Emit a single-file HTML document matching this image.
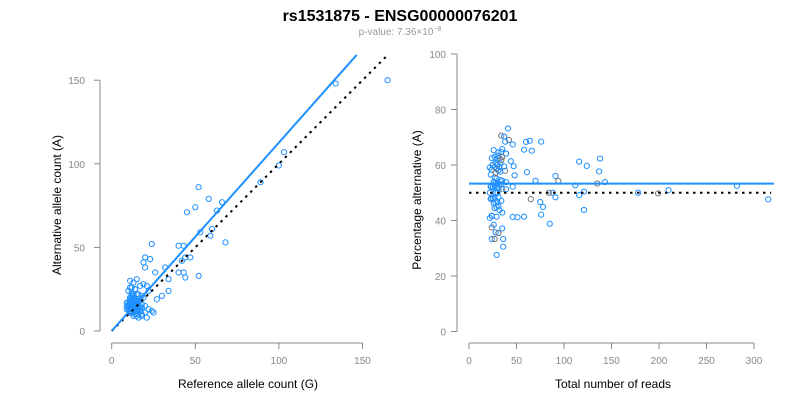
<!DOCTYPE html>
<html><head><meta charset="utf-8">
<style>
body{margin:0;background:#fff;}
svg{display:block;font-family:"Liberation Sans",sans-serif;}
</style></head>
<body>
<svg id="chart" width="800" height="400" viewBox="0 0 800 400">
<text x="400" y="21" text-anchor="middle" font-size="16" font-weight="bold" fill="#000">rs1531875 - ENSG00000076201</text>
<text x="400" y="35" text-anchor="middle" font-size="10" fill="#999">p-value: 7.36×10<tspan dy="-4" font-size="7">−8</tspan></text>
<g id="left"></g>
<g id="right"></g>
<text x="248" y="388" text-anchor="middle" font-size="12" fill="#000">Reference allele count (G)</text>
<text transform="translate(61,205) rotate(-90)" text-anchor="middle" font-size="12" fill="#000">Alternative allele count (A)</text>
<text x="613" y="388" text-anchor="middle" font-size="12" fill="#000">Total number of reads</text>
<text transform="translate(421,200) rotate(-90)" text-anchor="middle" font-size="12" fill="#000">Percentage alternative (A)</text>
</svg>
<script>
const refCounts = [165,134,103,100,89,52,58,66,50,45,63,53,60,59,68,24,40,43,20,23,19,20,44,47,42,26,32,40,43,44,52,34,34,30,27,25,20,
 11,13,15,17,12,19,14,22,16,18,21,11,13,15,12,14,16,10,12,13,11,14,15,17,18,12,13,10,11,12,14,16,9,11,13,15,10,12,14,11,13,16,18,20,22,12,10,11,13,15,17,19,12,14,21,24,16,18,11,9,10,12,13,
 12,13,14,15,16,12,13,14,11,12,13,14,15,10,11,12,13,14,15,16,17,12,13,14,18,20,9,10,11,12,13,14,15,16,12,11,13,14,15,12];
const altCounts = [150,148,107,99,89,86,79,77,74,71,72,59,61,57,53,52,51,51,44,43,41,38,44,44,42,35,38,35,35,32,33,31,24,21,19,11,11,
 30,29,31,27,26,28,25,24,22,21,27,20,19,18,17,16,15,14,13,12,11,10,9,12,14,18,16,15,12,11,10,13,17,19,20,22,24,23,14,12,9,8,10,11,13,15,17,26,14,16,18,20,22,25,8,12,10,9,12,15,13,11,15,
 14,15,16,13,14,17,18,12,16,13,12,14,15,15,12,11,18,19,17,18,14,20,22,10,16,15,13,14,17,16,15,13,12,19,11,18,21,15,16,14];
const xTicksL = [0,50,100,150], yTicksL = [0,50,100,150];
const xTicksR = [0,50,100,150,200,250,300], yTicksR = [0,20,40,60,80,100];
const fitSlope = 1.127, fitPct = 53.3, nullPct = 50;

const NS="http://www.w3.org/2000/svg";
function mk(parent,tag,attrs){const e=document.createElementNS(NS,tag);for(const k in attrs)e.setAttribute(k,attrs[k]);parent.appendChild(e);return e;}
const L=document.getElementById('left'), R=document.getElementById('right');
const xL=v=>111.7+v*1.672, yL=v=>331-v*1.672;
const xR=v=>469+v*0.95, yR=v=>331.5-v*2.775;
const AX='#888', TK='#888';

let a=mk(L,'line',{x1:xL(0),x2:xL(150),y1:343,y2:343,stroke:AX});

xTicksL.forEach(t=>{const l=mk(L,'line',{x1:xL(t),x2:xL(t),y1:343,y2:349,stroke:AX});
 
 const tx=mk(L,'text',{x:xL(t),y:364,'text-anchor':'middle','font-size':10,fill:TK});tx.textContent=t;
 });
a=mk(L,'line',{x1:100,x2:100,y1:yL(0),y2:yL(150),stroke:AX});

yTicksL.forEach(t=>{const l=mk(L,'line',{x1:94,x2:100,y1:yL(t),y2:yL(t),stroke:AX});
 
 const tx=mk(L,'text',{x:85,y:yL(t)+4,'text-anchor':'end','font-size':10,fill:TK});tx.textContent=t;
 });
refCounts.forEach((r,i)=>{const c=mk(L,'circle',{cx:xL(r),cy:yL(altCounts[i]),r:2.6,fill:'none',stroke:'#1e90ff','stroke-width':1});
 });
let ln=mk(L,'line',{x1:xL(0),y1:yL(0),x2:xL(164),y2:yL(164),stroke:'#000','stroke-width':2,'stroke-dasharray':'2.5,4.5'});

ln=mk(L,'line',{x1:xL(0),y1:yL(0),x2:xL(146.5),y2:yL(146.5*fitSlope),stroke:'#1e90ff','stroke-width':2});


a=mk(R,'line',{x1:xR(0),x2:xR(300),y1:343,y2:343,stroke:AX});

xTicksR.forEach(t=>{const l=mk(R,'line',{x1:xR(t),x2:xR(t),y1:343,y2:349,stroke:AX});
 
 const tx=mk(R,'text',{x:xR(t),y:364,'text-anchor':'middle','font-size':10,fill:TK});tx.textContent=t;
 });
a=mk(R,'line',{x1:457,x2:457,y1:yR(0),y2:yR(100),stroke:AX});

yTicksR.forEach(t=>{const l=mk(R,'line',{x1:451,x2:457,y1:yR(t),y2:yR(t),stroke:AX});
 
 const tx=mk(R,'text',{x:446,y:yR(t)+4,'text-anchor':'end','font-size':10,fill:TK});tx.textContent=t;
 });
refCounts.forEach((r,i)=>{const tot=r+altCounts[i];const p=100*altCounts[i]/tot;
 const c=mk(R,'circle',{cx:xR(tot),cy:yR(p),r:2.6,fill:'none',stroke:(i%7==3?'#777':'#1e90ff'),'stroke-width':1});
 });
ln=mk(R,'line',{x1:xR(0),y1:yR(nullPct),x2:xR(318),y2:yR(nullPct),stroke:'#000','stroke-width':2,'stroke-dasharray':'2.5,4.5'});

ln=mk(R,'line',{x1:xR(0),y1:yR(fitPct),x2:xR(321),y2:yR(fitPct),stroke:'#1e90ff','stroke-width':2});

</script>
</body></html>
